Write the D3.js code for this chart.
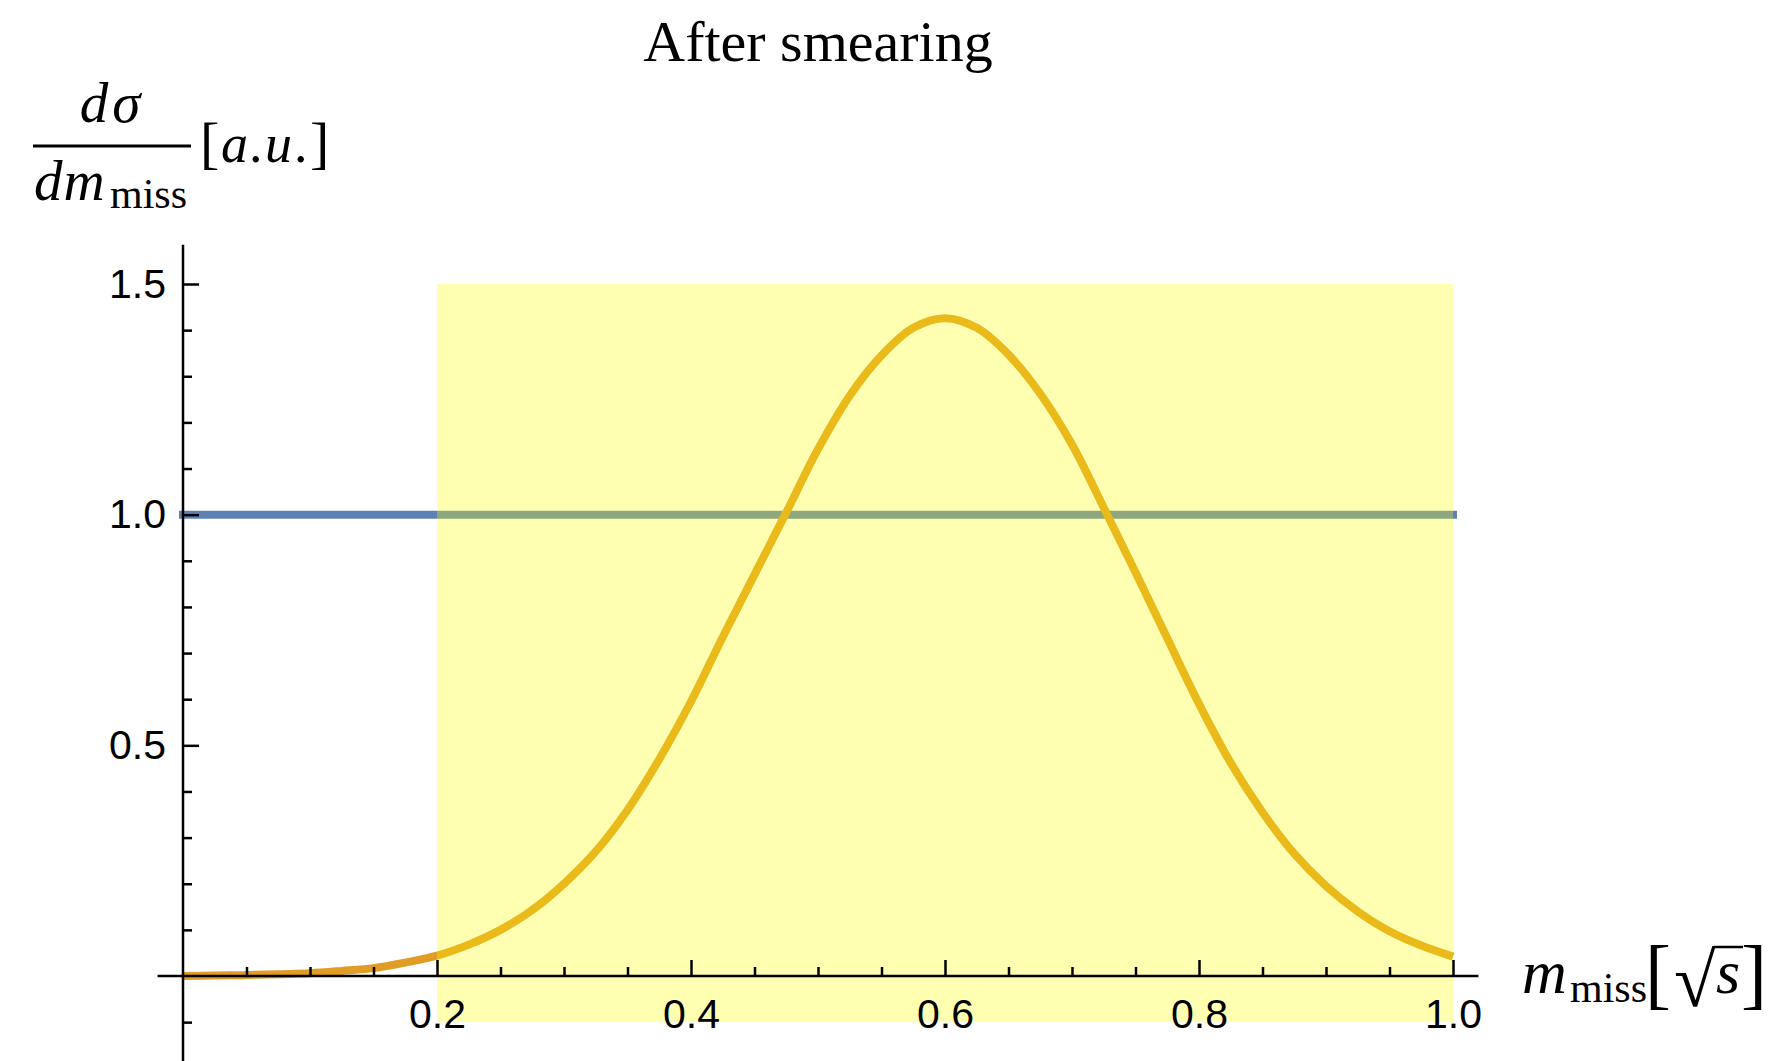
<!DOCTYPE html>
<html>
<head>
<meta charset="utf-8">
<script src="https://cdn.jsdelivr.net/npm/d3@7"></script>
<style>
  html, body { margin: 0; padding: 0; background: #fff; }
  svg { display: block; }
</style>
</head>
<body>
<svg id="chart" width="1768" height="1061"></svg>
<script>
// ---- data ----
const titleText = "After smearing";
const curveX = [0.000, 0.025, 0.050, 0.075, 0.100, 0.125, 0.150, 0.175, 0.200, 0.225,
                0.250, 0.275, 0.300, 0.325, 0.350, 0.375, 0.400, 0.425, 0.450, 0.475,
                0.500, 0.525, 0.550, 0.575, 0.600, 0.625, 0.650, 0.675, 0.700, 0.725,
                0.750, 0.775, 0.800, 0.825, 0.850, 0.875, 0.900, 0.925, 0.950, 0.975, 1.000];
const curveY = [0.000, 0.001, 0.002, 0.004, 0.006, 0.011, 0.017, 0.029, 0.044, 0.068,
                0.100, 0.143, 0.200, 0.270, 0.360, 0.470, 0.595, 0.735, 0.870, 1.005,
                1.142, 1.258, 1.345, 1.405, 1.426, 1.405, 1.347, 1.262, 1.152, 1.015,
                0.875, 0.732, 0.590, 0.462, 0.355, 0.265, 0.195, 0.140, 0.097, 0.066, 0.042];
const flatX = [0.0, 1.0];
const flatY = [1.0, 1.0];
const bandX = [0.2, 1.0];
const bandY = [-0.1, 1.5];
const yMajorTicks = [0.5, 1.0, 1.5];
const yMinorTicks = [-0.1, 0.1, 0.2, 0.3, 0.4, 0.6, 0.7, 0.8, 0.9, 1.1, 1.2, 1.3, 1.4];
const xMajorTicks = [0.2, 0.4, 0.6, 0.8, 1.0];
const xMinorTicks = [0.05, 0.1, 0.15, 0.25, 0.3, 0.35, 0.45, 0.5, 0.55, 0.65, 0.7, 0.75, 0.85, 0.9, 0.95];

// ---- layout ----
const svg = d3.select("#chart");
const serif = "'Liberation Serif', 'Times New Roman', serif";
const sans = "'Liberation Sans', Arial, sans-serif";

const x = d3.scaleLinear().domain([0, 1]).range([183, 1453]);
const y = d3.scaleLinear().domain([0, 1.5]).range([976, 284]);

const blue = "#5E81B5";
const orange = "#E09C24";

// lines
const line = d3.line().x(d => x(d[0])).y(d => y(d[1]));
svg.append("path")
  .datum(flatX.map((v, i) => [v, flatY[i]]))
  .attr("d", line)
  .attr("fill", "none").attr("stroke", blue).attr("stroke-width", 8).attr("stroke-linecap", "square");

const smooth = d3.line().x(d => x(d[0])).y(d => y(d[1])).curve(d3.curveCatmullRom.alpha(0.5));
svg.append("path")
  .datum(curveX.map((v, i) => [v, curveY[i]]))
  .attr("d", smooth)
  .attr("fill", "none").attr("stroke", orange).attr("stroke-width", 8).attr("stroke-linecap", "butt");

// yellow band on top
svg.append("rect")
  .attr("x", x(bandX[0])).attr("y", y(bandY[1]))
  .attr("width", x(bandX[1]) - x(bandX[0]))
  .attr("height", y(bandY[0]) - y(bandY[1]))
  .attr("fill", "#FFFF00").attr("fill-opacity", 0.3);

// axes
const axisColor = "#000";
svg.append("line").attr("x1", x(0)).attr("x2", x(0)).attr("y1", y(1.585)).attr("y2", 1061)
  .attr("stroke", axisColor).attr("stroke-width", 2.5);
svg.append("line").attr("x1", x(-0.02)).attr("x2", x(1.02)).attr("y1", y(0)).attr("y2", y(0))
  .attr("stroke", axisColor).attr("stroke-width", 2.5);

function styleAxis(g) {
  g.select(".domain").remove();
  g.selectAll(".tick line").attr("stroke", axisColor).attr("stroke-width", 2.5);
  g.selectAll(".tick text").attr("fill", "#000").attr("font-family", sans).attr("font-size", 41);
}

svg.append("g").attr("transform", `translate(${x(0)},0)`)
  .call(d3.axisLeft(y).tickValues(yMajorTicks).tickSize(-16).tickPadding(17).tickFormat(d3.format(".1f")))
  .call(styleAxis);
svg.append("g").attr("transform", `translate(${x(0)},0)`)
  .call(d3.axisLeft(y).tickValues(yMinorTicks).tickSize(-9).tickFormat(""))
  .call(styleAxis);

svg.append("g").attr("transform", `translate(0,${y(0)})`)
  .call(d3.axisBottom(x).tickValues(xMajorTicks).tickSize(-16).tickPadding(23).tickFormat(d3.format(".1f")))
  .call(styleAxis);
svg.append("g").attr("transform", `translate(0,${y(0)})`)
  .call(d3.axisBottom(x).tickValues(xMinorTicks).tickSize(-9).tickFormat(""))
  .call(styleAxis);

// title
svg.append("text").attr("x", 818).attr("y", 61).attr("text-anchor", "middle")
  .attr("font-family", serif).attr("font-size", 58).attr("fill", "#000").text(titleText);

function txt(t, px, py, size, opts = {}) {
  return svg.append("text").attr("x", px).attr("y", py)
    .attr("font-family", opts.ff || serif).attr("font-size", size)
    .attr("font-style", opts.it ? "italic" : "normal")
    .attr("text-anchor", opts.anchor || "start")
    .attr("letter-spacing", opts.ls || 0)
    .attr("fill", "#000").text(t);
}

// y-axis label: d sigma / d m_miss [a.u.]
txt("dσ", 112, 122, 57, { it: true, anchor: "middle", ls: 4 });
svg.append("line").attr("x1", 33).attr("x2", 191).attr("y1", 146).attr("y2", 146)
  .attr("stroke", "#000").attr("stroke-width", 3);
txt("dm", 34, 200, 57, { it: true, ls: 1 });
txt("miss", 110, 208, 42);
// [a.u.]
const au = svg.append("text").attr("font-family", serif).attr("fill", "#000");
[["[", 200, 58, false], ["a", 221, 54, true], [".", 249, 54, false],
 ["u", 265, 54, true], [".", 294, 54, false], ["]", 310, 58, false]].forEach(p => {
  au.append("tspan").attr("x", p[1]).attr("y", 162).attr("font-size", p[2])
    .attr("font-style", p[3] ? "italic" : "normal").text(p[0]);
});

// x-axis label: m_miss [sqrt(s)] as one text element
const xl = svg.append("text").attr("font-family", serif).attr("fill", "#000");
[["m", 1522, 993, 62, true], ["miss", 1570, 1002, 42, false], ["[", 1645, 1000, 78, false],
 ["√", 1674, 1006, 76, false], ["s", 1716, 993, 62, true], ["]", 1741, 1000, 78, false]].forEach(p => {
  xl.append("tspan").attr("x", p[1]).attr("y", p[2]).attr("font-size", p[3])
    .attr("font-style", p[4] ? "italic" : "normal").text(p[0]);
});
svg.append("line").attr("x1", 1714).attr("x2", 1743).attr("y1", 947).attr("y2", 947)
  .attr("stroke", "#000").attr("stroke-width", 2.5);
</script>
</body>
</html>
